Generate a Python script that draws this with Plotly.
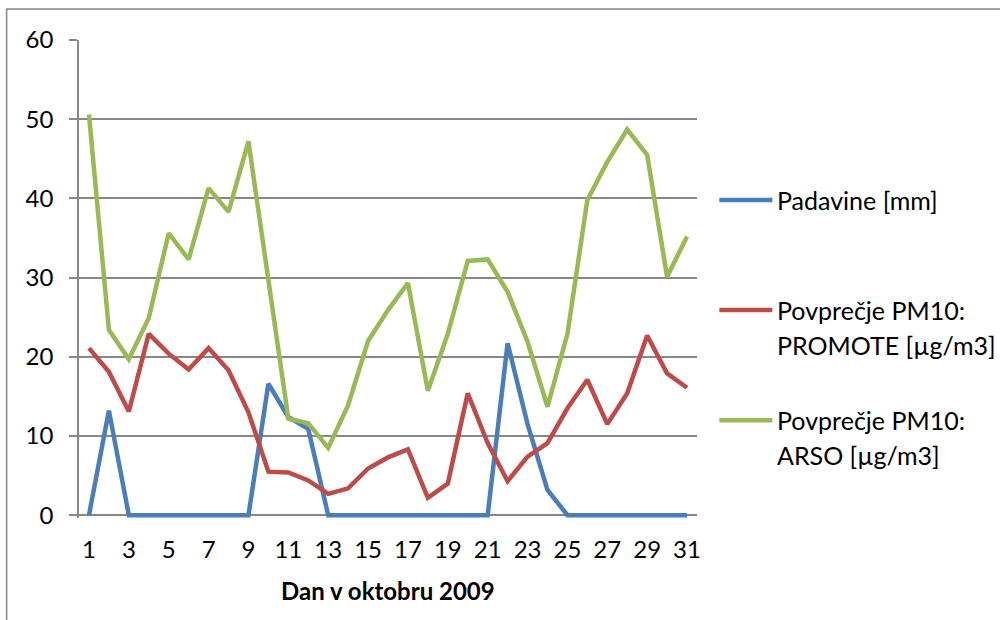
import plotly.graph_objects as go

# Daily data, October 2009
days = list(range(1, 32))
padavine = [0, 13.2, 0, 0, 0, 0, 0, 0, 0, 16.6, 12.4, 10.9, 0, 0, 0, 0,
            0, 0, 0, 0, 0, 21.7, 11.5, 3.2, 0, 0, 0, 0, 0, 0, 0]
promote = [21.1, 18.1, 13.1, 22.9, 20.4, 18.4, 21.1, 18.3, 13.0, 5.5, 5.4,
           4.4, 2.7, 3.4, 5.9, 7.3, 8.3, 2.2, 4.0, 15.4, 9.1, 4.3, 7.4, 9.1,
           13.5, 17.1, 11.5, 15.4, 22.7, 17.9, 16.1]
arso = [50.6, 23.4, 19.7, 24.9, 35.6, 32.3, 41.3, 38.3, 47.2, 30.0, 12.2,
        11.6, 8.5, 13.9, 22.0, 25.9, 29.3, 15.7, 22.9, 32.1, 32.3, 28.2,
        21.9, 13.7, 22.9, 39.8, 44.6, 48.7, 45.5, 30.1, 35.2]

series_names = ["Padavine [mm]",
                "Povprečje PM10: PROMOTE [µg/m3]",
                "Povprečje PM10: ARSO [µg/m3]"]
legend_lines = [["Padavine [mm]"],
                ["Povprečje PM10:", "PROMOTE [µg/m3]"],
                ["Povprečje PM10:", "ARSO [µg/m3]"]]
series_values = [padavine, promote, arso]
colors = ["#4A7EBB", "#BE4B48", "#98B954"]
x_ticks = list(range(1, 32, 2))
y_ticks = list(range(0, 61, 10))

W, H = 1000, 620
FONT = "Lato"
GRID = "#878787"

# plot-area geometry in pixels
L, R, T, B = 79.3, 696.7, 40.0, 517.8
ymin, ymax = -0.35, 60


def px_x(px):
    return (px - L) / (R - L)


def px_y(py):
    return (B - py) / (B - T)


fig = go.Figure()
for name, vals, col in zip(series_names, series_values, colors):
    fig.add_trace(go.Scatter(x=days, y=vals, mode="lines", name=name,
                             line=dict(color=col, width=4.5),
                             showlegend=False))

shapes = [
    # outer chart frame
    dict(type="rect", xref="paper", yref="paper",
         x0=px_x(7), x1=px_x(1100), y0=px_y(9), y1=px_y(700),
         line=dict(color=GRID, width=1.5), layer="below"),
]
annotations = []

# legend keys and labels
legend_y = [200, 310, 420]
for ypix, lines, col in zip(legend_y, legend_lines, colors):
    shapes.append(dict(type="line", xref="paper", yref="paper",
                       x0=px_x(719), x1=px_x(772), y0=px_y(ypix), y1=px_y(ypix),
                       line=dict(color=col, width=4.5)))
    for i, txt in enumerate(lines):
        annotations.append(dict(xref="paper", yref="paper",
                                x=px_x(775), y=px_y(ypix + 35 * i),
                                xanchor="left", yanchor="middle",
                                text=txt, showarrow=False,
                                font=dict(family=FONT, size=25, color="#000000")))

# axis title
annotations.append(dict(xref="paper", yref="paper",
                        x=0.5, y=px_y(590), xanchor="center", yanchor="middle",
                        text="<b>Dan v oktobru 2009</b>", showarrow=False,
                        font=dict(family=FONT, size=24, color="#000000")))

fig.update_layout(
    width=W, height=H,
    margin=dict(l=L, r=W - R, t=T, b=H - B, pad=0),
    paper_bgcolor="white", plot_bgcolor="white",
    font=dict(family=FONT, size=24, color="#000000"),
    shapes=shapes, annotations=annotations,
    xaxis=dict(range=[0.5, 31.5], tickmode="array", tickvals=x_ticks,
               ticktext=[str(t) for t in x_ticks], showgrid=False,
               zeroline=False, showline=False, ticks="",
               ticklabelstandoff=15,
               tickfont=dict(family=FONT, size=24, color="#000000")),
    yaxis=dict(range=[ymin, ymax], tickmode="array", tickvals=y_ticks,
               showgrid=True, gridcolor=GRID, gridwidth=1.5,
               zeroline=False, showline=True, linecolor=GRID, linewidth=1.5,
               ticks="outside", ticklen=8, tickcolor=GRID, tickwidth=1.5,
               ticklabelstandoff=11,
               tickfont=dict(family=FONT, size=24, color="#000000")),
)

fig.write_html("out.html")
